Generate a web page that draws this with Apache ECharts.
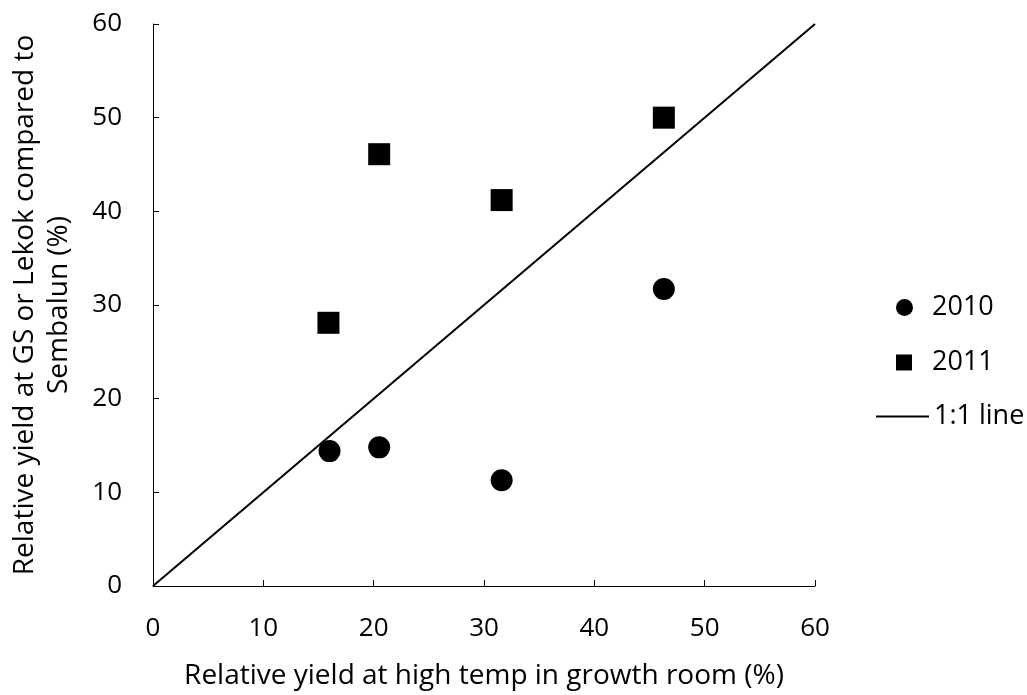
<!DOCTYPE html>
<html>
<head>
<meta charset="utf-8">
<script src="https://cdn.jsdelivr.net/npm/echarts@6/dist/echarts.min.js"></script>
<style>html,body{margin:0;padding:0;background:#fff}#c{width:1027px;height:695px}</style>
</head>
<body>
<div id="c"></div>
<script>
const x2010 = [16.0, 20.5, 31.6, 46.3];
const y2010 = [14.4, 14.8, 11.3, 31.7];
const x2011 = [15.9, 20.5, 31.6, 46.3];
const y2011 = [28.1, 46.1, 41.2, 50.0];
const lineX = [0, 60];
const lineY = [0, 60];
const seriesNames = ['2010', '2011', '1:1 line'];
const xTitle = 'Relative yield at high temp in growth room (%)';
const yTitle = 'Relative yield at GS or Lekok compared to\nSembalun (%)';

const zip = (a, b) => a.map((v, i) => [v, b[i]]);
const FONT = 'Open Sans';
const chart = echarts.init(document.getElementById('c'), null, {renderer: 'canvas'});
const axisCommon = {
  min: 0, max: 60, interval: 10,
  axisLine: {show: true, lineStyle: {color: '#000', width: 1}},
  axisTick: {show: true, inside: true, length: 6, lineStyle: {color: '#000'}},
  splitLine: {show: false},
  nameLocation: 'middle',
  nameTextStyle: {fontFamily: FONT, fontSize: 28, color: '#000'},
  axisLabel: {fontFamily: FONT, fontSize: 26, color: '#000'}
};
const legText = {fontFamily: FONT, fontSize: 27, color: '#000'};
chart.setOption({
  animation: false,
  backgroundColor: '#fff',
  grid: {left: 152, right: 212, top: 24, bottom: 107},
  xAxis: Object.assign({}, axisCommon, {
    type: 'value', name: xTitle, nameGap: 76,
    axisLabel: Object.assign({}, axisCommon.axisLabel, {margin: 30})
  }),
  yAxis: Object.assign({}, axisCommon, {
    type: 'value', name: yTitle, nameGap: 77, nameRotate: 90,
    nameTextStyle: Object.assign({}, axisCommon.nameTextStyle, {lineHeight: 34}),
    axisLabel: Object.assign({}, axisCommon.axisLabel, {margin: 31})
  }),
  legend: [
    {data: [{name: seriesNames[0], icon: 'circle', itemStyle: {color: '#000', opacity: 1}}], left: 891, top: 289, itemWidth: 17, itemHeight: 17,
     textStyle: Object.assign({}, legText, {padding: [0, 0, 0, 14]})},
    {data: [{name: seriesNames[1], icon: 'rect', itemStyle: {color: '#000', opacity: 1}}], left: 891, top: 344, itemWidth: 16, itemHeight: 16,
     textStyle: Object.assign({}, legText, {padding: [0, 0, 0, 15]})},
    {data: [{name: seriesNames[2], icon: 'path://M0,0L53,0L53,2L0,2Z', itemStyle: {color: '#000', opacity: 1}}], left: 871, top: 398, itemWidth: 53, itemHeight: 2,
     textStyle: Object.assign({}, legText, {padding: [0, 0, 0, 0]})}
  ],
  series: [
    {name: seriesNames[0], type: 'scatter', data: zip(x2010, y2010), symbol: 'circle', symbolSize: 22,
     itemStyle: {color: '#000', opacity: 1}},
    {name: seriesNames[1], type: 'scatter', data: zip(x2011, y2011), symbol: 'rect', symbolSize: 22,
     itemStyle: {color: '#000', opacity: 1}},
    {name: seriesNames[2], type: 'line', data: zip(lineX, lineY), symbol: 'none', showSymbol: false,
     lineStyle: {color: '#000', width: 2}, itemStyle: {color: '#000'}}
  ]
});
</script>
</body>
</html>
